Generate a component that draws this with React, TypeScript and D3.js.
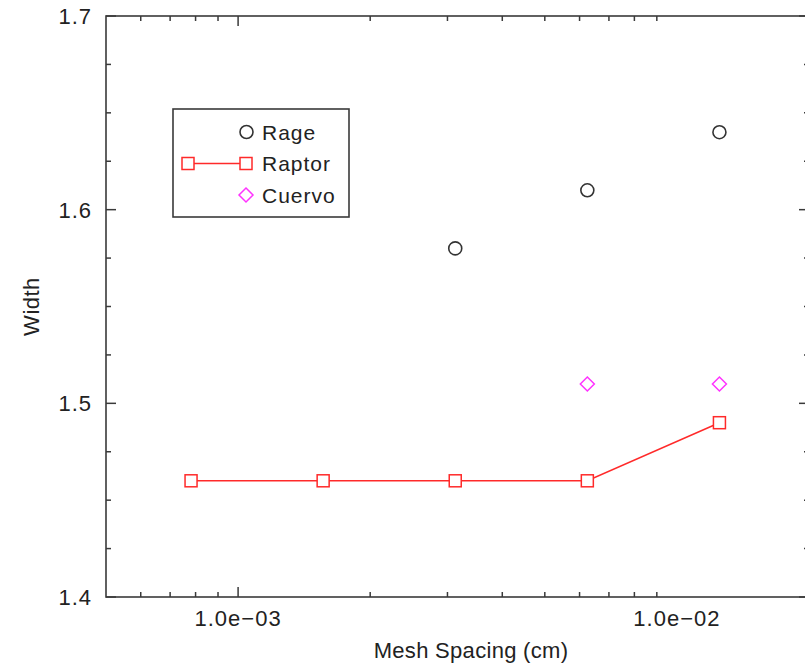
import React from "react";
import * as d3 from "d3";

const meshSpacing = [7.8125e-4, 1.5625e-3, 3.125e-3, 6.25e-3, 1.25e-2];
const raptorWidth = [1.46, 1.46, 1.46, 1.46, 1.49];
const rageSpacing = [3.125e-3, 6.25e-3, 1.25e-2];
const rageWidth = [1.58, 1.61, 1.64];
const cuervoSpacing = [6.25e-3, 1.25e-2];
const cuervoWidth = [1.51, 1.51];

const xMajorTickMarks = [1e-3];
const xMinorTickMarks = [6e-4, 7e-4, 8e-4, 9e-4, 2e-3, 3e-3, 4e-3, 5e-3, 6e-3, 7e-3, 8e-3, 9e-3];
const xTickLabelValues = [1e-3, 1e-2];
const xTickLabels = ["1.0e\u221203", "1.0e\u221202"];
const yMajorTicks = [1.4, 1.5, 1.6, 1.7];
const yTickLabels = ["1.4", "1.5", "1.6", "1.7"];
const yMinorTicks = [1.425, 1.45, 1.475, 1.525, 1.55, 1.575, 1.625, 1.65, 1.675];

const legendNames = ["Rage", "Raptor", "Cuervo"];

export default function App() {
  const L = 106, R = 809, T = 16, B = 597;
  const x = d3.scaleLog().domain([5e-4, 2e-2]).range([L, R]);
  const y = d3.scaleLinear().domain([1.4, 1.7]).range([B, T]);
  const axisColor = "#3a3a3a";
  const font = "'Liberation Sans', Arial, Helvetica, sans-serif";
  const red = "#ff2a2a";
  const magenta = "#ff33ff";

  const line = d3.line<number>()
    .x((_, i) => x(meshSpacing[i]))
    .y((d) => y(d));

  const sq = 12;
  const square = (cx: number, cy: number, key: string) => (
    <rect key={key} x={cx - sq / 2} y={cy - sq / 2} width={sq} height={sq} fill="white" stroke={red} strokeWidth={1.5} />
  );
  const diamond = (cx: number, cy: number, key: string) => (
    <path key={key} d={`M${cx},${cy - 7}L${cx + 7},${cy}L${cx},${cy + 7}L${cx - 7},${cy}Z`} fill="none" stroke={magenta} strokeWidth={1.5} />
  );
  const circle = (cx: number, cy: number, key: string) => (
    <circle key={key} cx={cx} cy={cy} r={6.5} fill="none" stroke="#333" strokeWidth={1.6} />
  );

  const legendX = 173, legendY = 109, legendW = 176, legendH = 108;
  const rowY = [132, 163.5, 195];

  return (
    <svg width={805} height={667} style={{ position: "absolute", left: 0, top: 0, background: "white" }}>
      <rect x={0} y={0} width={805} height={667} fill="white" />
      {/* frame */}
      <rect x={L} y={T} width={R - L} height={B - T} fill="none" stroke={axisColor} strokeWidth={1.6} />
      {/* x ticks bottom & top */}
      {xMajorTickMarks.map((v, i) => (
        <g key={"xM" + i}>
          <line x1={x(v)} x2={x(v)} y1={B} y2={B - 10} stroke={axisColor} strokeWidth={1.5} />
          <line x1={x(v)} x2={x(v)} y1={T} y2={T + 10} stroke={axisColor} strokeWidth={1.5} />
        </g>
      ))}
      {xMinorTickMarks.map((v, i) => (
        <g key={"xm" + i}>
          <line x1={x(v)} x2={x(v)} y1={B} y2={B - 5} stroke={axisColor} strokeWidth={1.5} />
          <line x1={x(v)} x2={x(v)} y1={T} y2={T + 5} stroke={axisColor} strokeWidth={1.5} />
        </g>
      ))}
      {xTickLabelValues.map((v, i) => (
        <text key={"xl" + i} x={x(v)} y={626} textAnchor="middle" fontFamily={font} fontSize={22} letterSpacing={1} fill="#222">
          {xTickLabels[i]}
        </text>
      ))}
      {/* y ticks left & right */}
      {yMajorTicks.map((v, i) => (
        <g key={"yM" + i}>
          <line x1={L} x2={L + 10} y1={y(v)} y2={y(v)} stroke={axisColor} strokeWidth={1.5} />
          <line x1={R} x2={R - 10} y1={y(v)} y2={y(v)} stroke={axisColor} strokeWidth={1.5} />
          <text x={92} y={y(v) + 8} textAnchor="end" fontFamily={font} fontSize={22} letterSpacing={1} fill="#222">
            {yTickLabels[i]}
          </text>
        </g>
      ))}
      {yMinorTicks.map((v, i) => (
        <g key={"ym" + i}>
          <line x1={L} x2={L + 5} y1={y(v)} y2={y(v)} stroke={axisColor} strokeWidth={1.5} />
          <line x1={R} x2={R - 5} y1={y(v)} y2={y(v)} stroke={axisColor} strokeWidth={1.5} />
        </g>
      ))}
      {/* axis titles */}
      <text x={471} y={658} textAnchor="middle" fontFamily={font} fontSize={22} letterSpacing={0.3} fill="#222">
        Mesh Spacing (cm)
      </text>
      <text transform={`translate(39,${(T + B) / 2}) rotate(-90)`} textAnchor="middle" fontFamily={font} fontSize={22} letterSpacing={0.5} fill="#222">
        Width
      </text>
      {/* data */}
      <path d={line(raptorWidth) || ""} fill="none" stroke={red} strokeWidth={1.5} />
      {raptorWidth.map((v, i) => square(x(meshSpacing[i]), y(v), "r" + i))}
      {rageWidth.map((v, i) => circle(x(rageSpacing[i]), y(v), "g" + i))}
      {cuervoWidth.map((v, i) => diamond(x(cuervoSpacing[i]), y(v), "c" + i))}
      {/* legend */}
      <rect x={legendX} y={legendY} width={legendW} height={legendH} fill="white" stroke={axisColor} strokeWidth={1.6} />
      {circle(246.5, rowY[0], "lg0")}
      <line x1={188} x2={246} y1={rowY[1]} y2={rowY[1]} stroke={red} strokeWidth={1.5} />
      {square(188, rowY[1], "lr0")}
      {square(246, rowY[1], "lr1")}
      {diamond(246, rowY[2], "lc0")}
      {legendNames.map((n, i) => (
        <text key={"ln" + i} x={262} y={rowY[i] + 7.5} fontFamily={font} fontSize={21} letterSpacing={1} fill="#222">
          {n}
        </text>
      ))}
    </svg>
  );
}
